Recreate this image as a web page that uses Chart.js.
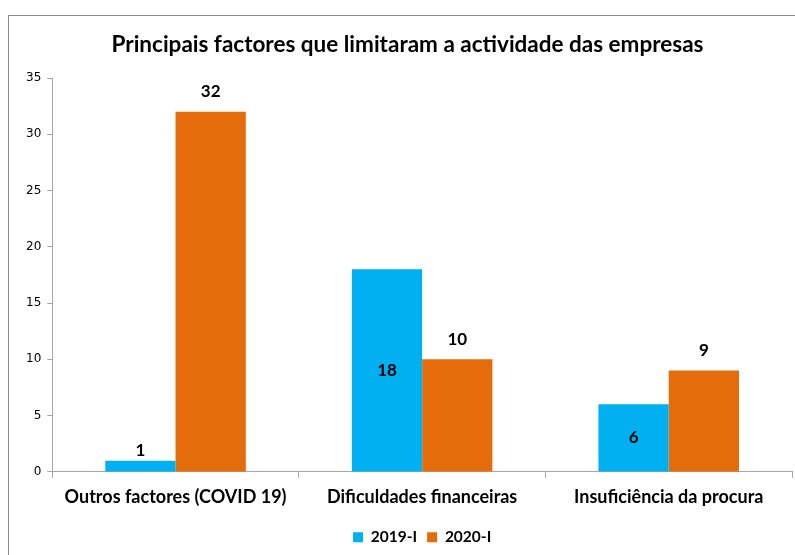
<!DOCTYPE html>
<html>
<head>
<meta charset="utf-8">
<script src="https://cdn.jsdelivr.net/npm/chart.js@4.4.1/dist/chart.umd.min.js"></script>
<style>
  html, body { margin: 0; padding: 0; background: #fff; }
  #wrap { position: relative; width: 795px; height: 555px; }
  #frame { position: absolute; left: 8px; top: 15px; width: 800px; height: 560px; border: 1px solid #8c8c8c; box-sizing: border-box; }
  canvas { position: absolute; left: 0; top: 0; }
</style>
</head>
<body>
<div id="wrap">
  <div id="frame"></div>
  <canvas id="chart" width="795" height="555"></canvas>
</div>
<script>
const categories = ['Outros factores (COVID 19)', 'Dificuldades financeiras', 'Insuficiência da procura'];
const seriesNames = ['2019-I', '2020-I'];
const values2019 = [1, 18, 6];
const values2020 = [32, 10, 9];
const yTicks = [0, 5, 10, 15, 20, 25, 30, 35];

const blue = '#00b0f0';
const orange = '#e46c0a';
const axisGray = '#a6a6a6';

// value labels: 2019-I centred in the bar (above when the bar is too short), 2020-I above the bar
const valueLabels = {
    id: 'valueLabels',
    afterDatasetsDraw(chart) {
        const ctx = chart.ctx;
        ctx.save();
        ctx.font = 'bold 17px Lato';
        ctx.fillStyle = '#000';
        ctx.textAlign = 'center';
        ctx.textBaseline = 'middle';
        chart.data.datasets.forEach((ds, i) => {
            chart.getDatasetMeta(i).data.forEach((bar, j) => {
                const h = bar.base - bar.y;
                let y;
                if (i == 0 && h > 24) {
                    y = bar.y + h / 2;
                } else {
                    y = bar.y - (i == 0 ? 10 : 20);
                }
                ctx.fillText(ds.data[j], bar.x, y);
            });
        });
        ctx.restore();
    }
};

new Chart(document.getElementById('chart'), {
    type: 'bar',
    data: {
        labels: categories,
        datasets: [
            { label: seriesNames[0], data: values2019, backgroundColor: blue },
            { label: seriesNames[1], data: values2020, backgroundColor: orange }
        ]
    },
    options: {
        responsive: false,
        animation: false,
        events: [],
        layout: { padding: { left: 23, right: 3, top: 0, bottom: 0 } },
        datasets: {
            bar: { categoryPercentage: 0.57, barPercentage: 1.0 }
        },
        scales: {
            x: {
                grid: { offset: true, drawOnChartArea: false, drawTicks: true, tickLength: 6, color: axisGray },
                border: { color: axisGray, width: 1 },
                ticks: { color: '#000', font: { family: 'Lato', size: 18, weight: 'bold' }, padding: 8 },
                afterFit: axis => { axis.height += 4; }
            },
            y: {
                min: 0,
                max: 35,
                afterBuildTicks: axis => { axis.ticks = yTicks.map(v => ({ value: v })); },
                grid: { drawOnChartArea: false, drawTicks: true, tickLength: 5, color: axisGray },
                border: { color: axisGray, width: 1 },
                ticks: { color: '#000', font: { family: 'DejaVu Sans', size: 12 }, padding: 6 },
                afterFit: axis => { axis.width -= 3; }
            }
        },
        plugins: {
            title: {
                display: true,
                text: 'Principais factores que limitaram a actividade das empresas',
                color: '#000',
                font: { family: 'Lato', size: 22.5, weight: 'bold' },
                padding: { top: 31, bottom: 20 }
            },
            legend: {
                position: 'bottom',
                fullSize: false,
                labels: {
                    color: '#000',
                    font: { family: 'Lato', size: 15.5, weight: 'bold' },
                    boxWidth: 10,
                    boxHeight: 10,
                    padding: 10
                }
            },
            tooltip: { enabled: false }
        }
    },
    plugins: [valueLabels]
});
</script>
</body>
</html>
